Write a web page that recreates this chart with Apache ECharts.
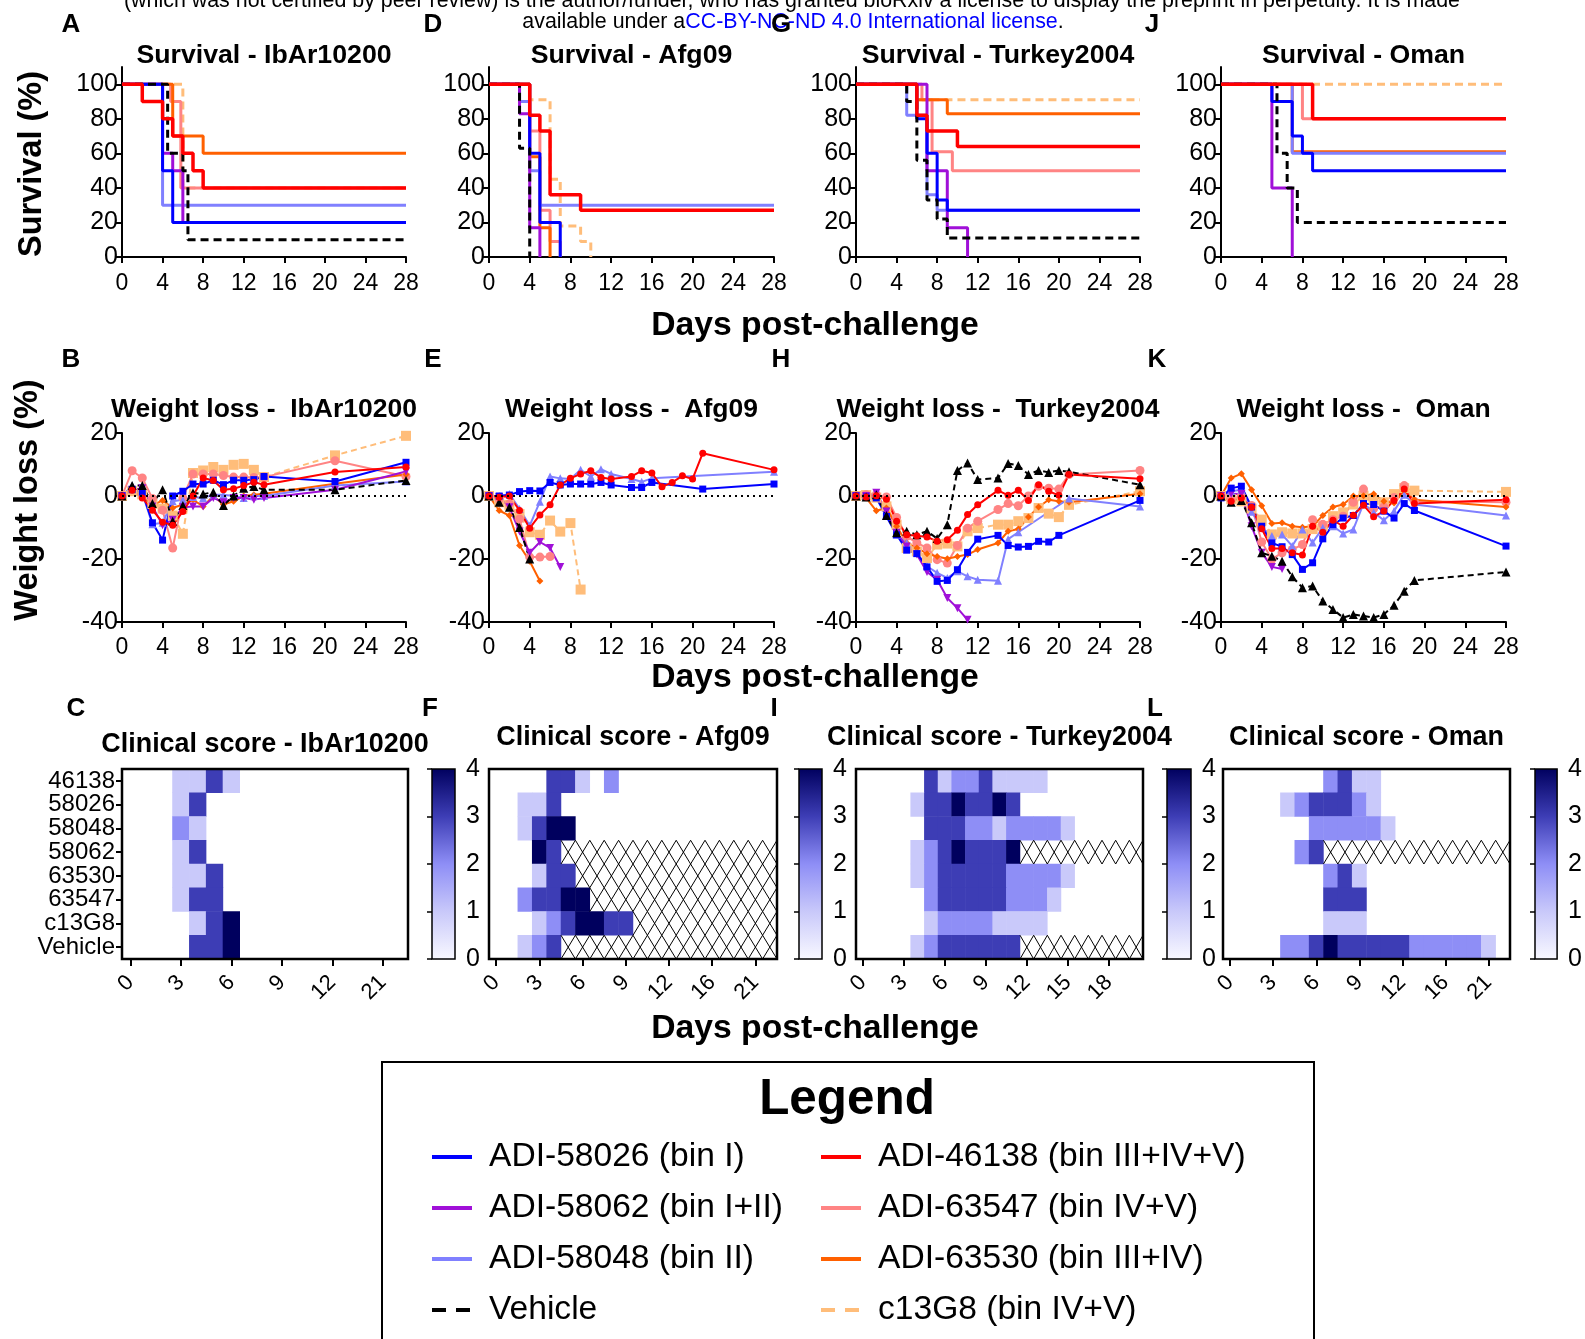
<!DOCTYPE html>
<html><head><meta charset="utf-8">
<script src="https://cdn.jsdelivr.net/npm/echarts@6/dist/echarts.min.js"></script>
<style>html,body{margin:0;padding:0;background:#fff}#c{width:1585px;height:1339px}</style>
</head><body><div id="c"></div>
<script>
// ---------------- DATA ----------------
const strains = ['IbAr10200', 'Afg09', 'Turkey2004', 'Oman'];
const seriesKeys = ['58026', '58062', '58048', 'vehicle', '46138', '63547', '63530', 'c13G8'];
const seriesNames = ['ADI-58026 (bin I)', 'ADI-58062 (bin I+II)', 'ADI-58048 (bin II)', 'Vehicle',
  'ADI-46138 (bin III+IV+V)', 'ADI-63547 (bin IV+V)', 'ADI-63530 (bin III+IV)', 'c13G8 (bin IV+V)'];
const survTicks = [0, 20, 40, 60, 80, 100];

// Survival (Kaplan-Meier steps): [day, % surviving]
const survIbAr_58026 = [[0,100],[4,50],[5,20],[28,20]];
const survIbAr_58062 = [[0,100],[4,60],[5,50],[6,20],[28,20]];
const survIbAr_58048 = [[0,100],[4,30],[28,30]];
const survIbAr_vehicle = [[0,100],[4.5,60],[6,50],[6.5,10],[28,10]];
const survIbAr_46138 = [[0,100],[2,90],[4,80],[5,70],[6,60],[7,50],[8,40],[28,40]];
const survIbAr_63547 = [[0,100],[4.8,90],[5.8,40],[28,40]];
const survIbAr_63530 = [[0,100],[5,70],[8,60],[28,60]];
const survIbAr_c13G8 = [[0,100],[6,40],[28,40]];

const survAfg_58026 = [[0,100],[4,60],[5,20],[7,0]];
const survAfg_58062 = [[0,100],[3,83],[4,17],[5,0]];
const survAfg_58048 = [[0,100],[3,90],[4,50],[5,30],[28,30]];
const survAfg_vehicle = [[0,100],[3,63],[4,0]];
const survAfg_46138 = [[0,100],[4,82],[5,73],[6,36],[9,27],[28,27]];
const survAfg_63547 = [[0,100],[4,73],[5,27],[6,9],[7,0]];
const survAfg_63530 = [[0,100],[4,58],[5,17],[6,0]];
const survAfg_c13G8 = [[0,100],[4,91],[6,45],[7,18],[9,9],[10,0]];

const survTur_58026 = [[0,100],[6,80],[7,60],[8,33],[9,27],[28,27]];
const survTur_58062 = [[0,100],[7,50],[9,17],[11,0]];
const survTur_58048 = [[0,100],[5,82],[7,36],[8,27],[28,27]];
const survTur_vehicle = [[0,100],[5,90],[6,56],[7,33],[8,22],[9,11],[28,11]];
const survTur_46138 = [[0,100],[6,82],[7,73],[10,64],[28,64]];
const survTur_63547 = [[0,100],[6.5,91],[7.5,61],[9.5,50],[28,50]];
const survTur_63530 = [[0,100],[6,91],[9,83],[28,83]];
const survTur_c13G8 = [[0,100],[6,91],[28,91]];

const survOman_58026 = [[0,100],[5,90],[7,70],[8,60],[9,50],[28,50]];
const survOman_58062 = [[0,100],[5,40],[7,0]];
const survOman_58048 = [[0,100],[7,60],[28,60]];
const survOman_vehicle = [[0,100],[5.5,60],[6.5,40],[7.5,20],[28,20]];
const survOman_46138 = [[0,100],[9,80],[28,80]];
const survOman_63547 = [[0,100],[8,80],[28,80]];
const survOman_63530 = [[0,100],[7,61],[28,61]];
const survOman_c13G8 = [[0,100],[28,100]];

// Weight loss (%) : days and values
const wDaysIbAr = [0,1,2,3,4,5,6,7,8,9,10,11,12,13,14,21,28];
const wIbAr_58026 = [0,2,1.2,-8.5,-14,0,1.5,3.8,3.8,5,3.6,5,5,5.2,6.2,4.6,10.7];
const wIbAr_58062 = [0,2,2.5,-3.3,-9.3,-7.5,-3.6,-3.3,-3.3,-0.6,-2,-0.6,-0.6,-1.2,-0.6,2,7.8];
const wIbAr_58048 = [0,3.3,1,-9,-8.5,-1.7,-1.2,-0.3,-0.6,0.4,0.4,0,-0.6,0,0,3.3,4.6];
const wIbAr_vehicle = [0,3.3,3.3,-2.4,2,-8,-3,1,0.6,1.2,-3,0,2.5,3,2,2,4.9];
const wIbAr_46138 = [0,1.8,-0.6,-4.5,-8.3,-9.3,-4.9,0,5.7,4.9,2,2.3,3.3,4.4,3.6,7.6,9.2];
const wIbAr_63547 = [0,8,5.7,-0.8,-4.5,-16.5,-0.6,7,7,7,6.5,6,6,5.9,6,11.2,6.2];
const wIbAr_63530 = [0,2,0,-3,-1.4,-3.8,-2.7,-1.2,-3.3,0,-2.7,-1.7,0,0.4,0.7,3.9,6.8];
const wIbAr_c13G8 = [0,1.5,0.5,-2.5,-4,-6.2,-12,7.3,8.1,9.2,8.3,9.9,10.2,8.3,6,12.9,19.1];

const wDaysAfg_46138 = [0,1,2,3,4,5,6,7,8,9,10,11,12,14,15,16,17,18,19,20,21,28];
const wAfg_46138 = [0,-0.4,0,-4.6,-10.2,-6,-2.8,3.5,5.6,7,8,5.9,5.4,6.2,8,7.3,2.9,4.3,6.4,5.4,13.6,8.3];
const wDaysAfg_58026 = [0,1,2,3,4,5,6,7,8,9,10,11,12,14,15,16,21,28];
const wAfg_58026 = [0,0,0.3,1.4,1.7,1.6,4.3,3.5,3.8,3.8,3.8,4.3,3.5,2.7,2.7,4.3,2.2,3.8];
const wDaysAfg_58048 = [0,1,2,3,4,5,6,7,8,9,10,11,12,14,15,16,28];
const wAfg_58048 = [0,0,0.6,-4.1,-9.4,-1.8,6.2,5.6,5.4,8.3,6.2,8.5,7,5.4,4.5,5.6,7.7];
const wDaysAfg_63530 = [0,1,2,3,4,5];
const wAfg_63530 = [0,-4.6,-6.2,-15.7,-20.7,-27];
const wDaysAfg_vehicle = [0,1,2,3,4];
const wAfg_vehicle = [0,-2,-3.6,-10,-20];
const wDaysAfg_58062 = [0,1,2,3,4,5,6,7];
const wAfg_58062 = [0,-0.4,-3.6,-11.3,-18,-14.6,-16.5,-22.5];
const wDaysAfg_63547 = [0,1,2,3,4,5,6];
const wAfg_63547 = [0,-1,-2.5,-7.3,-19.4,-19.4,-19.2];
const wDaysAfg_c13G8 = [0,1,2,3,4,5,6,7,8,9];
const wAfg_c13G8 = [0,-2,-2.8,-5.7,-11.5,-12.3,-7.8,-11.3,-8.6,-29.7];

const wDaysTur = [0,1,2,3,4,5,6,7,8,9,10,11,12,14,15,16,17,18,19,20,21,28];
const wTur_vehicle = [0,-0.3,0.4,-6.2,-11.7,-11.2,-12.3,-11.2,-13.5,-9.1,8.1,10.5,5.2,5.7,10.3,9.7,6.8,8.1,7.5,8.1,7.7,3.6];
const wTur_46138 = [0,-0.3,0.1,-1,-8,-12.3,-12.6,-13,-14.4,-13.9,-10.9,-5.9,-2.8,1.8,0.2,1.8,-1.4,3.6,1.5,0.2,6.8,5.5];
const wTur_63547 = [0,0.4,0.4,-0.3,-6.8,-12.8,-14.9,-16.5,-20.2,-21.3,-15.7,-10.2,-8,-4.3,-2.4,-3.1,0,3.1,2.5,2.2,6.8,8.1];
const wTur_63530 = [0,-0.6,-4.7,-3.8,-9.6,-14.9,-16.5,-18.3,-19.2,-19.9,-19.2,-18.6,-17,-14.9,-11.2,-10.5,-6.7,-3.5,-1.2,-1.7,-2,0.7];
const wTur_c13G8 = [0,0.3,-0.5,-3.3,-9.1,-16.5,-17.6,-19.7,-15.4,-15.1,-16,-11.2,-10.2,-9.1,-9.1,-8,-7,-3.8,-5.6,-6.7,-2.8,1.5];
const wDaysTur_58026 = [0,1,2,3,4,5,6,7,8,9,10,11,12,14,15,16,17,18,19,20,28];
const wTur_58026 = [0,-0.3,-0.6,-6.5,-12.3,-17.2,-18.3,-22.5,-27.1,-26.8,-23.4,-17.9,-13.7,-12.5,-15.7,-16.2,-16,-14.4,-14.6,-12.5,-1.4];
const wDaysTur_58048 = [0,1,2,3,4,5,6,7,8,9,10,11,12,14,15,16,21,28];
const wTur_58048 = [0,0,0.3,-5.9,-12.3,-14.9,-18.1,-22.3,-24.4,-26,-23.9,-25.5,-26.6,-26.9,-13.7,-11.5,-0.8,-3.3];
const wDaysTur_58062 = [0,1,2,3,4,5,6,7,8,9,10,11];
const wTur_58062 = [0,0,1,-4.9,-11.7,-16,-18.6,-24.1,-26.6,-32.4,-35.6,-39.3];

const wDaysOman = [0,1,2,3,4,5,6,7,8,9,10,11,12,13,14,15,16,17,18,19,28];
const wOman_vehicle = [0,-2,-1.4,-8.5,-18,-19.1,-20.7,-25.6,-29.1,-28.6,-33.3,-36,-38.6,-37.6,-38.1,-38.6,-37.6,-34.7,-30.2,-26.8,-24.1];
const wOman_63530 = [0,5.7,7.1,2,-3.1,-8.7,-8.5,-9.6,-9.9,-9.6,-6.2,-3.5,-2.7,0,0.1,0.6,-1.7,-2.2,1.5,-1.2,-3.5];
const wOman_c13G8 = [0,-1,-1.7,-4,-7.5,-12.2,-11.5,-11.9,-11.9,-10.5,-9.6,-6.4,-5.2,-2.7,0.1,-1.2,-2,0.6,2.5,1.7,1.3];
const wOman_46138 = [0,-1.7,-0.6,-3.6,-10.4,-16.7,-16.7,-18,-18.7,-9.6,-11.5,-7.7,-9.6,-6.1,-2.9,-6.6,-4.8,-1.4,2.2,-2.4,-1.2];
const wOman_63547 = [0,-1,0,-3,-14.6,-20.1,-18,-17,-15.4,-7.5,-9,-7.5,-6.4,-2,2.2,-4,-3.5,-0.5,3.3,-1.7,-2];
const wOman_58026 = [-0.6,2.5,3.1,-3.5,-9.6,-14.9,-16.1,-18.6,-23.3,-21.2,-13.6,-9.1,-7,-6.2,-2.4,-2.7,-4.8,-7,-2.4,-4.6,-15.9];
const wOman_58048 = [0,1.5,2,-5,-10,-12.7,-12.2,-15.9,-10.6,-14.8,-10.1,-9.6,-11.9,-10.6,-2.4,-5.2,-7.7,-4.8,0.4,-2.7,-6.2];
const wDaysOman_58062 = [0,1,2,3,4,5,6];
const wOman_58062 = [0,0.7,0.6,-9.6,-18,-22.5,-23.2];

// Clinical score heatmaps (rows top->bottom), 'x' = hatched (animals dead)
const csRows = ['46138', '58026', '58048', '58062', '63530', '63547', 'c13G8', 'Vehicle'];
const csDaysIbAr = ['0','1','2','3','4','5','6','7','8','9','10','11','12','13','14','21','28'];
const csIbAr = [
  [0,0,0,1,1,3,1,0,0,0,0,0,0,0,0,0,0],
  [0,0,0,1,3,0,0,0,0,0,0,0,0,0,0,0,0],
  [0,0,0,2,1,0,0,0,0,0,0,0,0,0,0,0,0],
  [0,0,0,1,3,0,0,0,0,0,0,0,0,0,0,0,0],
  [0,0,0,1,1,3,0,0,0,0,0,0,0,0,0,0,0],
  [0,0,0,1,3,3,0,0,0,0,0,0,0,0,0,0,0],
  [0,0,0,0,1,3,4,0,0,0,0,0,0,0,0,0,0],
  [0,0,0,0,3,3,4,0,0,0,0,0,0,0,0,0,0]
];
const csDaysAfg = ['0','1','2','3','4','5','6','7','8','9','10','11','12','14','15','16','17','19','21','28'];
const csAfg = [
  [0,0,0,0,3,3,1,0,2,0,0,0,0,0,0,0,0,0,0,0],
  [0,0,1,1,3,0,0,0,0,0,0,0,0,0,0,0,0,0,0,0],
  [0,0,1,3,4,4,0,0,0,0,0,0,0,0,0,0,0,0,0,0],
  [0,0,0,4,3,'x','x','x','x','x','x','x','x','x','x','x','x','x','x','x'],
  [0,0,0,1,3,3,'x','x','x','x','x','x','x','x','x','x','x','x','x','x'],
  [0,0,2,3,3,4,4,'x','x','x','x','x','x','x','x','x','x','x','x','x'],
  [0,0,0,1,2,3,4,4,3,3,'x','x','x','x','x','x','x','x','x','x'],
  [0,0,1,2,3,'x','x','x','x','x','x','x','x','x','x','x','x','x','x','x']
];
const csDaysTur = ['0','1','2','3','4','5','6','7','8','9','10','11','12','13','14','15','16','17','18','19','20'];
const csTur = [
  [0,0,0,0,0,3,1,2,2,3,1,1,1,1,0,0,0,0,0,0,0],
  [0,0,0,0,1,3,3,4,3,3,4,3,0,0,0,0,0,0,0,0,0],
  [0,0,0,0,0,3,3,3,2,2,1,2,2,2,2,1,0,0,0,0,0],
  [0,0,0,0,1,2,3,4,3,3,3,4,'x','x','x','x','x','x','x','x','x'],
  [0,0,0,0,1,2,3,3,3,3,3,2,2,2,2,1,0,0,0,0,0],
  [0,0,0,0,0,2,3,3,3,3,3,2,2,2,1,0,0,0,0,0,0],
  [0,0,0,0,0,1,2,2,2,2,1,1,1,1,0,0,0,0,0,0,0],
  [0,0,0,0,1,2,3,3,3,3,3,3,'x','x','x','x','x','x','x','x','x']
];
const csDaysOman = ['0','1','2','3','4','5','6','7','8','9','10','11','12','14','15','16','17','19','21','28'];
const csOman = [
  [0,0,0,0,0,0,0,2,3,1,1,0,0,0,0,0,0,0,0,0],
  [0,0,0,0,1,2,3,3,3,2,1,0,0,0,0,0,0,0,0,0],
  [0,0,0,0,0,0,2,2,2,2,2,1,0,0,0,0,0,0,0,0],
  [0,0,0,0,0,2,3,'x','x','x','x','x','x','x','x','x','x','x','x','x'],
  [0,0,0,0,0,0,0,2,3,1,0,0,0,0,0,0,0,0,0,0],
  [0,0,0,0,0,0,0,3,3,3,0,0,0,0,0,0,0,0,0,0],
  [0,0,0,0,0,0,0,1,1,1,0,0,0,0,0,0,0,0,0,0],
  [0,0,0,0,2,2,3,4,3,3,3,3,3,2,2,2,2,2,1,0]
];

// ---------------- BUILD ----------------
const FONT = '"Liberation Sans", Arial, Helvetica, sans-serif';
const survByPanel = [
  {'58026':survIbAr_58026,'58062':survIbAr_58062,'58048':survIbAr_58048,'vehicle':survIbAr_vehicle,'46138':survIbAr_46138,'63547':survIbAr_63547,'63530':survIbAr_63530,'c13G8':survIbAr_c13G8},
  {'58026':survAfg_58026,'58062':survAfg_58062,'58048':survAfg_58048,'vehicle':survAfg_vehicle,'46138':survAfg_46138,'63547':survAfg_63547,'63530':survAfg_63530,'c13G8':survAfg_c13G8},
  {'58026':survTur_58026,'58062':survTur_58062,'58048':survTur_58048,'vehicle':survTur_vehicle,'46138':survTur_46138,'63547':survTur_63547,'63530':survTur_63530,'c13G8':survTur_c13G8},
  {'58026':survOman_58026,'58062':survOman_58062,'58048':survOman_58048,'vehicle':survOman_vehicle,'46138':survOman_46138,'63547':survOman_63547,'63530':survOman_63530,'c13G8':survOman_c13G8}
];
const zip = (d, v) => d.map((x, i) => [x, v[i]]);
const wByPanel = [
  {'58026':zip(wDaysIbAr,wIbAr_58026),'58062':zip(wDaysIbAr,wIbAr_58062),'58048':zip(wDaysIbAr,wIbAr_58048),'vehicle':zip(wDaysIbAr,wIbAr_vehicle),'46138':zip(wDaysIbAr,wIbAr_46138),'63547':zip(wDaysIbAr,wIbAr_63547),'63530':zip(wDaysIbAr,wIbAr_63530),'c13G8':zip(wDaysIbAr,wIbAr_c13G8)},
  {'58026':zip(wDaysAfg_58026,wAfg_58026),'58062':zip(wDaysAfg_58062,wAfg_58062),'58048':zip(wDaysAfg_58048,wAfg_58048),'vehicle':zip(wDaysAfg_vehicle,wAfg_vehicle),'46138':zip(wDaysAfg_46138,wAfg_46138),'63547':zip(wDaysAfg_63547,wAfg_63547),'63530':zip(wDaysAfg_63530,wAfg_63530),'c13G8':zip(wDaysAfg_c13G8,wAfg_c13G8)},
  {'58026':zip(wDaysTur_58026,wTur_58026),'58062':zip(wDaysTur_58062,wTur_58062),'58048':zip(wDaysTur_58048,wTur_58048),'vehicle':zip(wDaysTur,wTur_vehicle),'46138':zip(wDaysTur,wTur_46138),'63547':zip(wDaysTur,wTur_63547),'63530':zip(wDaysTur,wTur_63530),'c13G8':zip(wDaysTur,wTur_c13G8)},
  {'58026':zip(wDaysOman,wOman_58026),'58062':zip(wDaysOman_58062,wOman_58062),'58048':zip(wDaysOman,wOman_58048),'vehicle':zip(wDaysOman,wOman_vehicle),'46138':zip(wDaysOman,wOman_46138),'63547':zip(wDaysOman,wOman_63547),'63530':zip(wDaysOman,wOman_63530),'c13G8':zip(wDaysOman,wOman_c13G8)}
];
const csByPanel = [[csDaysIbAr, csIbAr], [csDaysAfg, csAfg], [csDaysTur, csTur], [csDaysOman, csOman]];

const STY = {
  '58026': {color:'#0000ff', symbol:'rect', size:7},
  '58062': {color:'#a010d8', symbol:'triangle', rotate:180, size:8},
  '58048': {color:'#8080ff', symbol:'triangle', size:8},
  'vehicle': {color:'#000000', symbol:'triangle', size:9, dash:true},
  '46138': {color:'#ff0000', symbol:'circle', size:7},
  '63547': {color:'#ff8484', symbol:'circle', size:9},
  '63530': {color:'#ff6000', symbol:'diamond', size:7},
  'c13G8': {color:'#ffbd7a', symbol:'rect', size:10, dash:true}
};
const drawOrder = ['c13G8', '63547', '63530', '58048', '58062', '58026', 'vehicle', '46138'];
const nameOf = k => seriesNames[seriesKeys.indexOf(k)];

const colX = [[122,406],[489,774],[856,1140],[1221,1506]];
const heatX = [[122,408],[489,777],[856,1143],[1223,1510]];
const barX = [[432,455],[799,822],[1167,1191],[1535,1559]];

const grid = [], xAxis = [], yAxis = [], series = [];
const axLine = {show:true, onZero:false, lineStyle:{color:'#000', width:2}};
const axTick = {show:true, length:6, lineStyle:{color:'#000', width:2}};
const lab = (fs, extra) => Object.assign({color:'#000', fontSize:fs, fontFamily:FONT}, extra || {});

// Survival grids 0-3
for (let p = 0; p < 4; p++) {
  const g = grid.length;
  grid.push({left:colX[p][0], width:colX[p][1]-colX[p][0], top:67, height:190});
  xAxis.push({type:'value', gridIndex:g, min:0, max:28, interval:4, axisLine:axLine, axisTick:axTick,
    axisLabel:lab(23,{margin:15}), splitLine:{show:false}});
  yAxis.push({type:'value', gridIndex:g, min:0, max:110, interval:20, axisLine:axLine,
    axisTick:Object.assign({}, axTick, {customValues:survTicks}),
    axisLabel:lab(25,{margin:4, customValues:survTicks}), splitLine:{show:false}});
  drawOrder.forEach(k => {
    const s = STY[k];
    series.push({type:'line', name:nameOf(k), xAxisIndex:g, yAxisIndex:g, step:'end', symbol:'none',
      data:survByPanel[p][k], animation:false,
      lineStyle:{color:s.color, width:k==='46138'?3.5:3, type:s.dash?[8,5]:'solid'},
      itemStyle:{color:s.color}});
  });
}
// Weight grids 4-7
for (let p = 0; p < 4; p++) {
  const g = grid.length;
  grid.push({left:colX[p][0], width:colX[p][1]-colX[p][0], top:433, height:189});
  xAxis.push({type:'value', gridIndex:g, min:0, max:28, interval:4, axisLine:axLine, axisTick:axTick,
    axisLabel:lab(23,{margin:14}), splitLine:{show:false}});
  yAxis.push({type:'value', gridIndex:g, min:-40, max:20, interval:20, axisLine:axLine, axisTick:axTick,
    axisLabel:lab(25,{margin:4}), splitLine:{show:false}});
  drawOrder.forEach((k, i) => {
    const s = STY[k];
    const ser = {type:'line', name:nameOf(k), xAxisIndex:g, yAxisIndex:g, data:wByPanel[p][k], animation:false,
      symbol:s.symbol, symbolSize:s.size, symbolRotate:s.rotate||0, showSymbol:true,
      lineStyle:{color:s.color, width:2, type:s.dash?[6,4]:'solid'}, itemStyle:{color:s.color}};
    if (i === 0) {
      ser.markLine = {silent:true, symbol:'none', label:{show:false}, animation:false,
        lineStyle:{color:'#000', type:[2,4], width:2}, data:[[{coord:[0,0]},{coord:[28,0]}]]};
    }
    series.push(ser);
  });
}
// Heatmap grids 8-11
const heatSeriesIdx = [];
for (let p = 0; p < 4; p++) {
  const g = grid.length;
  const [days, mat] = csByPanel[p];
  grid.push({left:heatX[p][0], width:heatX[p][1]-heatX[p][0], top:769, height:190, show:true, z:10,
    backgroundColor:'rgba(0,0,0,0)', borderColor:'#000', borderWidth:2.5});
  xAxis.push({type:'category', gridIndex:g, data:days, axisLine:{show:false},
    axisTick:{show:true, alignWithLabel:true, interval:2, length:7, lineStyle:{color:'#000', width:2}},
    axisLabel:lab(22,{interval:2, rotate:45, margin:20}), splitLine:{show:false}});
  yAxis.push({type:'category', gridIndex:g, data:csRows, inverse:true, axisLine:{show:false},
    axisTick:{show:p===0, alignWithLabel:true, interval:0, length:6, lineStyle:{color:'#000', width:2}},
    axisLabel:lab(24,{show:p===0, interval:0, margin:7}), splitLine:{show:false}});
  const hd = [], xd = [];
  mat.forEach((row, r) => row.forEach((v, c) => {
    if (v === 'x') xd.push([c, r]); else if (v > 0) hd.push([c, r, v]);
  }));
  heatSeriesIdx.push(series.length);
  series.push({type:'heatmap', xAxisIndex:g, yAxisIndex:g, data:hd, animation:false, silent:true});
  series.push({type:'custom', xAxisIndex:g, yAxisIndex:g, data:xd, animation:false, silent:true,
    encode:{x:0, y:1},
    renderItem:(params, api) => {
      const c = api.coord([api.value(0), api.value(1)]);
      const s = api.size([1, 1]);
      const x0 = c[0]-s[0]/2, x1 = c[0]+s[0]/2, y0 = c[1]-s[1]/2, y1 = c[1]+s[1]/2;
      return {type:'group', children:[
        {type:'line', shape:{x1:x0, y1:y0, x2:x1, y2:y1}, style:{stroke:'#000', lineWidth:1}},
        {type:'line', shape:{x1:x1, y1:y0, x2:x0, y2:y1}, style:{stroke:'#000', lineWidth:1}}
      ]};
    }});
}
// Colorbar grids 12-15
const cbColors = ['#00005e', '#3d3db5', '#8e8ef6', '#c9c9fa', '#f9f9ff'];
for (let p = 0; p < 4; p++) {
  const g = grid.length;
  grid.push({left:barX[p][0], width:barX[p][1]-barX[p][0], top:769, height:190, show:true,
    backgroundColor:new echarts.graphic.LinearGradient(0, 0, 0, 1, cbColors.map((c, i) => ({offset:i/4, color:c}))),
    borderColor:'#000', borderWidth:1.5});
  xAxis.push({type:'value', gridIndex:g, show:false, min:0, max:1});
  yAxis.push({type:'value', gridIndex:g, min:0, max:4, interval:1, position:'right', axisLine:{show:false},
    axisTick:{show:true, inside:true, length:5, lineStyle:{color:'#000', width:1.5}},
    axisLabel:lab(25,{margin:11}), splitLine:{show:false}});
}

// ---------------- GRAPHIC TEXT ----------------
const T = (x, y, text, size, bold, extra) => Object.assign({type:'text', x:x, y:y, silent:true,
  style:{text:text, font:(bold?'bold ':'') + size + 'px ' + FONT, fill:'#000',
    textAlign:'center', align:'center', textVerticalAlign:'middle', verticalAlign:'middle'}}, extra || {});
const graphic = [];
graphic.push(T(792, 1, '(which was not certified by peer review) is the author/funder, who has granted bioRxiv a license to display the preprint in perpetuity. It is made', 21.4, false));
graphic.push({type:'text', x:793, y:22.5, silent:true, style:{text:'available under a{b|CC-BY-NC-ND 4.0 International license}.',
  font:'21.4px ' + FONT, fill:'#000', textAlign:'center', align:'center', textVerticalAlign:'middle', verticalAlign:'middle',
  rich:{b:{fill:'#0000ff', font:'21.4px ' + FONT}}}});
const letters = [['A',71,25],['D',433,25],['G',781,25],['J',1152,25],['B',71,360],['E',433,360],['H',781,360],['K',1157,360],
  ['C',76,709],['F',430,709],['I',774,709],['L',1155,709]];
letters.forEach(l => graphic.push(T(l[1], l[2], l[0], 26, true)));
strains.forEach((s, p) => {
  const cx = (colX[p][0] + colX[p][1]) / 2;
  graphic.push(T(cx, 56, 'Survival - ' + s, 26.7, true));
  graphic.push(T(cx, 410, 'Weight loss -  ' + s, 26.5, true));
  const hx = (heatX[p][0] + heatX[p][1]) / 2;
  graphic.push(T(hx, p === 0 ? 744.5 : 737.5, 'Clinical score - ' + s, 26.9, true));
});
graphic.push(T(32, 164, 'Survival (%)', 32.5, true, {rotation:Math.PI/2}));
graphic.push(T(28, 500, 'Weight loss (%)', 32.5, true, {rotation:Math.PI/2}));
graphic.push(T(815, 326, 'Days post-challenge', 33.7, true));
graphic.push(T(815, 678, 'Days post-challenge', 33.7, true));
graphic.push(T(815, 1029, 'Days post-challenge', 33.7, true));
graphic.push({type:'rect', silent:true, shape:{x:382, y:1062, width:932, height:320}, style:{fill:'none', stroke:'#000', lineWidth:2}});
graphic.push(T(847, 1100, 'Legend', 49.4, true));

const legendBase = (left, keys) => ({
  orient:'vertical', left:left, top:1140, padding:0, itemWidth:40, itemHeight:16, itemGap:17,
  selectedMode:false,
  textStyle:{fontSize:33.6, fontFamily:FONT, color:'#000', lineHeight:34, padding:[0,0,0,12]},
  lineStyle:{width:4}, itemStyle:{opacity:0, borderWidth:0},
  data:keys.map(k => {
    const d = {name:nameOf(k)};
    if (STY[k].dash) d.lineStyle = {type:[14,10], width:4};
    return d;
  })
});

const option = {
  animation:false,
  backgroundColor:'#ffffff',
  textStyle:{fontFamily:FONT},
  grid:grid, xAxis:xAxis, yAxis:yAxis,
  visualMap:[{type:'continuous', show:false, min:0, max:4, seriesIndex:heatSeriesIdx, dimension:2,
    inRange:{color:cbColors.slice().reverse()}}],
  legend:[legendBase(430, ['58026','58062','58048','vehicle']), legendBase(819, ['46138','63547','63530','c13G8'])],
  graphic:graphic,
  series:series
};
const chart = echarts.init(document.getElementById('c'));
chart.setOption(option);
</script></body></html>
